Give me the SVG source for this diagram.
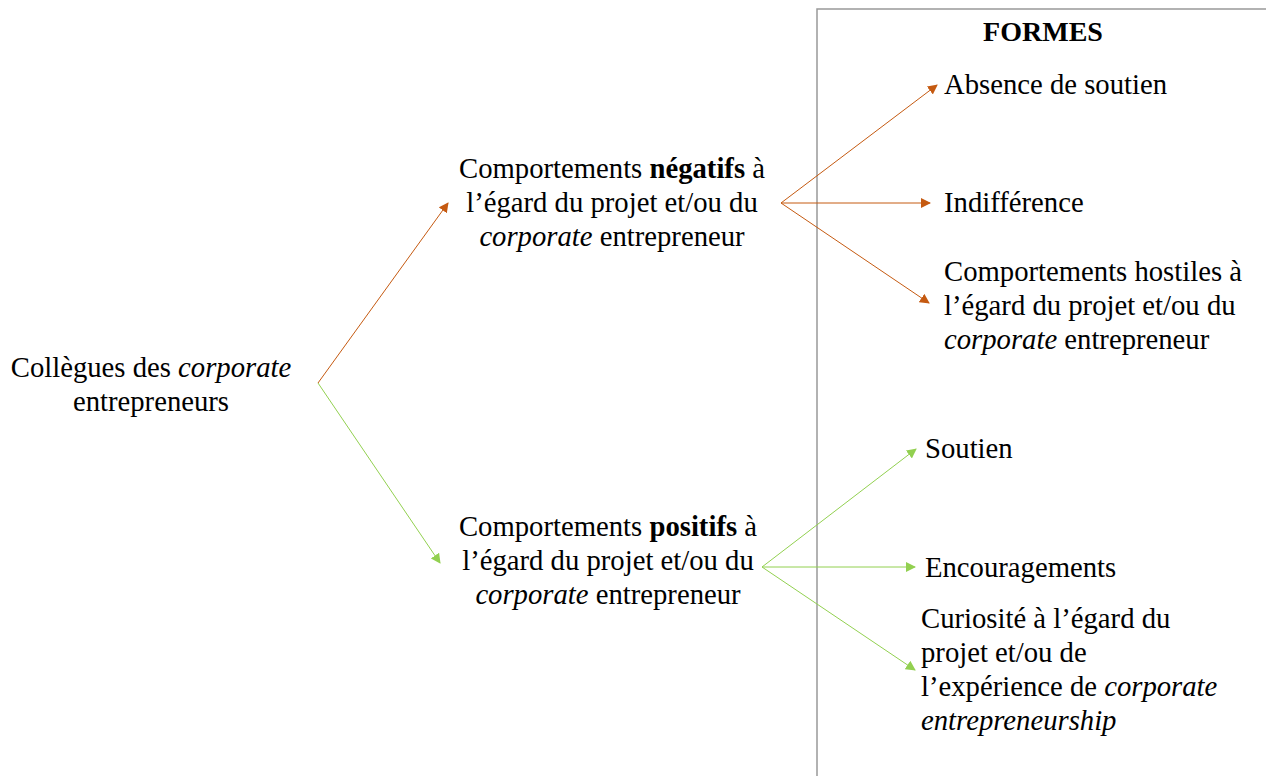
<svg xmlns="http://www.w3.org/2000/svg" width="1266" height="776" viewBox="0 0 1266 776">
<style>
.t{font-size:28.7px;fill:#000}
.c{text-anchor:middle}
.b{font-weight:bold}
.i{font-style:italic}
.o{stroke:#C55A11;stroke-width:1;fill:none}
.g{stroke:#92D050;stroke-width:1;fill:none}
</style>
<defs>
<marker id="ao" viewBox="0 0 10 10" refX="9" refY="5" markerWidth="10" markerHeight="10" markerUnits="userSpaceOnUse" orient="auto"><path d="M0,0L10,5L0,10z" fill="#C55A11"/></marker>
<marker id="ag" viewBox="0 0 10 10" refX="9" refY="5" markerWidth="10" markerHeight="10" markerUnits="userSpaceOnUse" orient="auto"><path d="M0,0L10,5L0,10z" fill="#92D050"/></marker>
</defs>
<rect id="formes-box" x="817" y="9" width="470" height="800" fill="none" stroke="#999" stroke-width="1.5"/>
<g id="connectors">
<path class="o" d="M318,383L448,203" marker-end="url(#ao)"/>
<path class="g" d="M318,383L440,563" marker-end="url(#ag)"/>
<path class="o" d="M781,203L937,85" marker-end="url(#ao)"/>
<path class="o" d="M781,203L930,203" marker-end="url(#ao)"/>
<path class="o" d="M781,203L929,303" marker-end="url(#ao)"/>
<path class="g" d="M762,567L916,449" marker-end="url(#ag)"/>
<path class="g" d="M762,567L915,567" marker-end="url(#ag)"/>
<path class="g" d="M762,567L915,670" marker-end="url(#ag)"/>
</g>
<g id="title"><text class="t c b" x="1043" y="41" style="font-family:'Liberation Serif';font-size:28px">FORMES</text></g>
<g id="collegues">
<text class="t c" style="font-family:'Liberation Serif'" x="151" y="377">Collègues des <tspan class="i">corporate</tspan></text>
<text class="t c" style="font-family:'Liberation Serif'" x="151" y="411">entrepreneurs</text>
</g>
<g id="negatifs">
<text class="t c" style="font-family:'Liberation Serif'" x="612" y="178">Comportements <tspan class="b">négatifs</tspan> à</text>
<text class="t c" style="font-family:'Liberation Serif'" x="612" y="212">l’égard du projet et/ou du</text>
<text class="t c" style="font-family:'Liberation Serif'" x="612" y="246"><tspan class="i">corporate</tspan> entrepreneur</text>
</g>
<g id="positifs">
<text class="t c" style="font-family:'Liberation Serif'" x="608" y="536">Comportements <tspan class="b">positifs</tspan> à</text>
<text class="t c" style="font-family:'Liberation Serif'" x="608" y="570">l’égard du projet et/ou du</text>
<text class="t c" style="font-family:'Liberation Serif'" x="608" y="604"><tspan class="i">corporate</tspan> entrepreneur</text>
</g>
<g id="absence"><text class="t" style="font-family:'Liberation Serif'" x="944" y="94">Absence de soutien</text></g>
<g id="indifference"><text class="t" style="font-family:'Liberation Serif'" x="944" y="212">Indifférence</text></g>
<g id="hostiles">
<text class="t" style="font-family:'Liberation Serif'" x="944" y="281">Comportements hostiles à</text>
<text class="t" style="font-family:'Liberation Serif'" x="944" y="315">l’égard du projet et/ou du</text>
<text class="t" style="font-family:'Liberation Serif'" x="944" y="349"><tspan class="i">corporate</tspan> entrepreneur</text>
</g>
<g id="soutien"><text class="t" style="font-family:'Liberation Serif'" x="925" y="458">Soutien</text></g>
<g id="encouragements"><text class="t" style="font-family:'Liberation Serif'" x="925" y="577">Encouragements</text></g>
<g id="curiosite">
<text class="t" style="font-family:'Liberation Serif'" x="921" y="628">Curiosité à l’égard du</text>
<text class="t" style="font-family:'Liberation Serif'" x="921" y="662">projet et/ou de</text>
<text class="t" style="font-family:'Liberation Serif'" x="921" y="696">l’expérience de <tspan class="i">corporate</tspan></text>
<text class="t i" style="font-family:'Liberation Serif'" x="921" y="730">entrepreneurship</text>
</g>
</svg>
